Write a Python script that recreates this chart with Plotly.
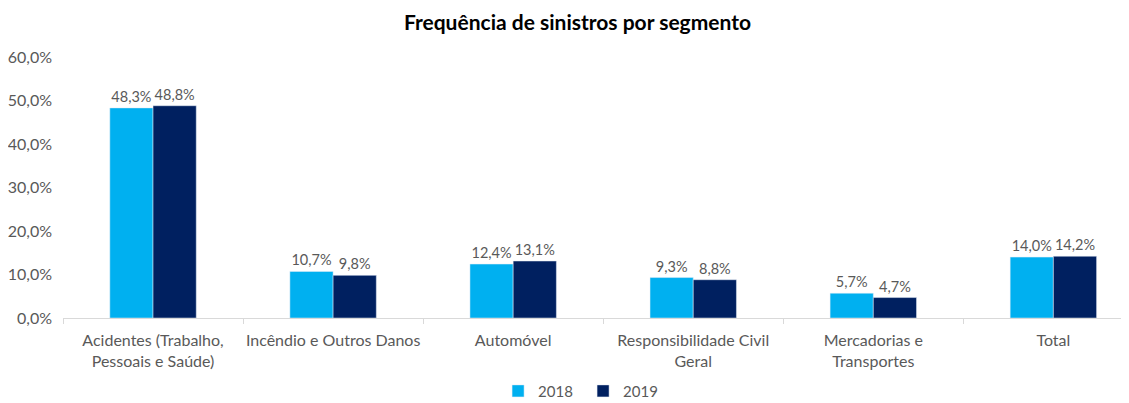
import plotly.graph_objects as go

categories = [
    "Acidentes (Trabalho,<br>Pessoais e Saúde)",
    "Incêndio e Outros Danos",
    "Automóvel",
    "Responsibilidade Civil<br>Geral",
    "Mercadorias e<br>Transportes",
    "Total",
]
freq_2018 = [0.483, 0.107, 0.124, 0.093, 0.057, 0.140]
freq_2019 = [0.488, 0.098, 0.131, 0.088, 0.047, 0.142]
y_ticks = [0, 0.1, 0.2, 0.3, 0.4, 0.5, 0.6]

text_color = "#595959"
font_family = "Lato, Open Sans, sans-serif"

fig = go.Figure()

# 2018 series
fig.add_trace(
    go.Bar(
        x=categories,
        y=freq_2018,
        name="2018",
        marker_color="#00B0F0",
        text=[f"{v * 100:.1f}%".replace(".", ",") for v in freq_2018],
        textposition="outside",
        textfont=dict(size=14.5, color=text_color),
        cliponaxis=False,
    )
)

# 2019 series
fig.add_trace(
    go.Bar(
        x=categories,
        y=freq_2019,
        name="2019",
        marker_color="#002060",
        text=[f"{v * 100:.1f}%".replace(".", ",") for v in freq_2019],
        textposition="outside",
        textfont=dict(size=14.5, color=text_color),
        cliponaxis=False,
    )
)

# the page body adds an 8px offset, so the figure is a bit smaller
fig.update_layout(
    width=1121,
    height=395,
    separators=",.",
    barmode="group",
    bargap=0.52,
    bargroupgap=0,
    plot_bgcolor="white",
    paper_bgcolor="white",
    font=dict(family=font_family, size=16, color=text_color),
    title=dict(
        text="<b>Frequência de sinistros por segmento</b>",
        x=0.508,
        xanchor="center",
        y=0.963,
        yanchor="middle",
        font=dict(size=21, color="#000000"),
    ),
    margin=dict(l=55, r=0, t=49, b=85, autoexpand=False),
    legend=dict(
        orientation="h",
        x=0.513,
        xanchor="center",
        xref="container",
        y=0.03,
        yanchor="middle",
        yref="container",
        font=dict(size=15, color=text_color),
        traceorder="normal",
        itemwidth=30,
        entrywidth=40,
        entrywidthmode="pixels",
    ),
    xaxis=dict(
        range=[-0.5, 5.42],
        automargin=False,
        tickangle=0,
        showline=True,
        linecolor="#D9D9D9",
        ticks="outside",
        tickson="boundaries",
        ticklen=5,
        tickcolor="#D9D9D9",
        ticklabelstandoff=8,
        tickfont=dict(size=16, color=text_color),
        showgrid=False,
    ),
    yaxis=dict(
        range=[0, 0.6],
        automargin=False,
        tickvals=y_ticks,
        tickformat=".1%",
        showgrid=False,
        zeroline=False,
        ticklabelstandoff=10,
        tickfont=dict(size=16, color=text_color),
    ),
)

fig.write_html("out.html")
